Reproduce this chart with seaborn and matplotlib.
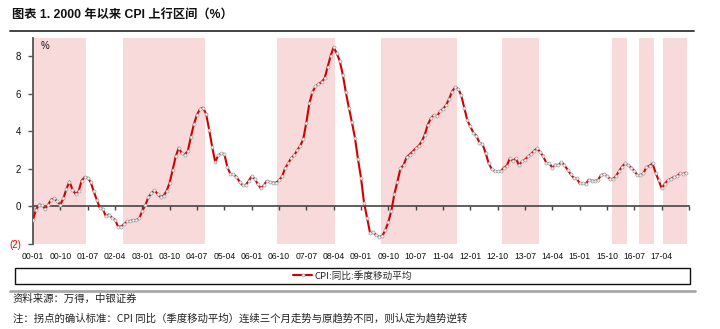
import numpy as np
import pandas as pd
import matplotlib
matplotlib.use("Agg")
import matplotlib.pyplot as plt
from matplotlib import font_manager
from matplotlib.patches import Rectangle
from matplotlib.lines import Line2D
import seaborn as sns

# ---------------- data ----------------
start_month = "2000-01"
cpi_ma = [
    # 2000
    -0.70, -0.17, 0.10, 0.07, -0.13, 0.10, 0.37, 0.43, 0.27, 0.10, 0.43, 0.93,
    # 2001
    1.33, 0.90, 0.67, 0.80, 1.37, 1.57, 1.53, 1.30, 0.80, 0.37, -0.07, -0.13,
    # 2002
    -0.53, -0.43, -0.60, -0.70, -1.07, -1.07, -0.93, -0.80, -0.77, -0.73, -0.73, -0.63,
    # 2003
    -0.23, 0.07, 0.50, 0.70, 0.87, 0.67, 0.50, 0.57, 0.83, 1.27, 1.97, 2.67,
    # 2004
    3.13, 2.83, 2.77, 2.97, 3.73, 4.40, 4.90, 5.20, 5.27, 4.93, 4.10, 3.17,
    # 2005
    2.37, 2.73, 2.83, 2.80, 2.10, 1.73, 1.73, 1.57, 1.33, 1.13, 1.13, 1.37,
    # 2006
    1.60, 1.47, 1.20, 0.97, 1.13, 1.37, 1.30, 1.27, 1.27, 1.40, 1.60, 2.03,
    # 2007
    2.30, 2.57, 2.73, 3.00, 3.23, 3.60, 4.47, 5.50, 6.10, 6.40, 6.53, 6.63,
    # 2008
    6.83, 7.43, 8.03, 8.50, 8.17, 7.77, 7.03, 6.10, 5.27, 4.50, 3.67, 2.53,
    # 2009
    1.53, 0.20, -0.60, -1.43, -1.37, -1.53, -1.63, -1.57, -1.27, -0.83, -0.23, 0.67,
    # 2010
    1.33, 2.03, 2.20, 2.63, 2.77, 2.93, 3.10, 3.23, 3.47, 3.83, 4.37, 4.70,
    # 2011
    4.87, 4.80, 5.07, 5.20, 5.40, 5.73, 6.13, 6.37, 6.27, 5.93, 5.27, 4.60,
    # 2012
    4.27, 3.93, 3.77, 3.40, 3.33, 2.87, 2.33, 2.00, 1.90, 1.87, 1.87, 2.07,
    # 2013
    2.17, 2.57, 2.43, 2.57, 2.20, 2.40, 2.50, 2.67, 2.80, 2.97, 3.10, 2.90,
    # 2014
    2.67, 2.33, 2.30, 2.07, 2.23, 2.20, 2.37, 2.20, 1.97, 1.73, 1.53, 1.50,
    # 2015
    1.23, 1.23, 1.20, 1.43, 1.37, 1.37, 1.40, 1.67, 1.73, 1.63, 1.47, 1.47,
    # 2016
    1.63, 1.90, 2.13, 2.30, 2.20, 2.07, 1.90, 1.67, 1.67, 1.77, 2.10, 2.17,
    # 2017
    2.30, 1.80, 1.40, 0.97, 1.20, 1.40, 1.47, 1.57, 1.60, 1.77, 1.73, 1.80,
]
# upward periods (start month, end month)
up_start = ["2000-01", "2002-07", "2006-10", "2009-08", "2012-12", "2015-12", "2016-09", "2017-05"]
up_end = ["2001-06", "2004-09", "2008-04", "2011-08", "2013-11", "2016-04", "2017-01", "2017-12"]

x_tick_labels = ["00-01", "00-10", "01-07", "02-04", "03-01", "03-10", "04-07", "05-04",
                 "06-01", "06-10", "07-07", "08-04", "09-01", "09-10", "10-07", "11-04",
                 "12-01", "12-10", "13-07", "14-04", "15-01", "15-10", "16-07", "17-04", ""]
y_ticks = [-2, 0, 2, 4, 6, 8]
y_tick_labels = ["(2)", "0", "2", "4", "6", "8"]

title = "图表 1. 2000 年以来 CPI 上行区间（%）"
series_name = "CPI:同比:季度移动平均"
source = "资料来源：万得，中银证券"
note = "注：拐点的确认标准：CPI 同比（季度移动平均）连续三个月走势与原趋势不同，则认定为趋势逆转"

# ---------------- style ----------------
sns.set_style("white")
names = {f.name for f in font_manager.fontManager.ttflist}
latin = "Liberation Sans"
narrow = "Liberation Sans Narrow" if "Liberation Sans Narrow" in names else None
cjk = "Noto Sans CJK SC"
plt.rcParams["font.family"] = [latin, cjk, "DejaVu Sans"]
plt.rcParams["axes.unicode_minus"] = False

months = pd.date_range(start_month, periods=len(cpi_ma), freq="MS")
df = pd.DataFrame({"idx": np.arange(len(cpi_ma)), "month": months, "cpi": cpi_ma})
pos = {m.strftime("%Y-%m"): i for i, m in enumerate(months)}

W, H = 720, 329
fig = plt.figure(figsize=(W / 100, H / 100), dpi=100)
ax = fig.add_axes([33 / W, 1 - 244 / H, (689 - 33) / W, (244 - 37.7) / H])

ymin, ymax = -2, 9
xmin, xmax = 0, 216
ax.set_xlim(xmin, xmax)
ax.set_ylim(ymin, ymax)

for s, e in zip(up_start, up_end):
    ax.axvspan(max(pos[s] - 0.5, xmin), pos[e] + 0.5, color="#F9DADA", lw=0, zorder=0)

line_kw = dict(color="#D00000", lw=1.5, marker="o", markersize=2.2,
               markerfacecolor="#F4F4F4", markeredgecolor="#A0A0A0", markeredgewidth=0.5)
sns.lineplot(data=df, x="idx", y="cpi", ax=ax, zorder=3, legend=False, **line_kw)
ax.set_xlabel("")
ax.set_ylabel("")

# spines
for sp in ["top", "right", "bottom"]:
    ax.spines[sp].set_visible(False)
ax.spines["left"].set_color("#555555")
ax.spines["left"].set_linewidth(1.3)

# y ticks
ax.set_yticks(y_ticks)
ax.set_yticklabels(y_tick_labels)
ax.tick_params(axis="y", direction="out", length=3.5, width=1.0, color="#555555",
               labelsize=7, pad=5, left=True)
for lab in ax.get_yticklabels():
    lab.set_color("#FF0000" if lab.get_text().startswith("(") else "#111111")

# x tick labels at bottom
xt = np.arange(0, xmax + 1, 9)
ax.set_xticks(xt)
ax.set_xticklabels(x_tick_labels)
ax.tick_params(axis="x", length=0, pad=6, labelsize=7 if narrow else 6.2, colors="#111111")
for lab in ax.get_xticklabels():
    lab.set_family([narrow or latin, cjk])

# zero line with tick marks
zero_frac = (0 - ymin) / (ymax - ymin)
sec = ax.secondary_xaxis(zero_frac)
sec.set_xticks(xt)
sec.set_xticklabels([])
sec.tick_params(axis="x", direction="out", length=3, width=1.0, color="#444444")
sec.spines["bottom"].set_color("#444444")
sec.spines["bottom"].set_linewidth(1.2)

ax.grid(False)
ax.text(0.012, 0.985, "%", transform=ax.transAxes, ha="left", va="top", fontsize=7, color="#111111")

# ---------------- figure decorations ----------------
fig.text(12 / W, 1 - 15 / H, title, ha="left", va="center", fontsize=8.8, fontweight="bold",
         family=[latin, cjk], color="#111111")
fig.add_artist(Line2D([10 / W, 694 / W], [1 - 31 / H, 1 - 31 / H], color="#444444", lw=1.4))

# legend box
fig.add_artist(Rectangle((15 / W, 1 - 284 / H), (690 - 15) / W, 16 / H, transform=fig.transFigure,
                         fill=False, edgecolor="#111111", lw=1.0))
handle = Line2D([], [], **line_kw)
fig.legend([handle], [series_name], loc="center", bbox_to_anchor=(352.5 / W, 1 - 276 / H),
           frameon=False, handlelength=2.0, handletextpad=0.2,
           prop={"family": [cjk, latin], "size": 6.9})

fig.add_artist(Line2D([10 / W, 695 / W], [1 - 290.5 / H, 1 - 290.5 / H], color="#A8A8A8", lw=2.0))
fig.text(13 / W, 1 - 299 / H, source, ha="left", va="center", fontsize=7.5, style="italic",
         family=[cjk, latin], color="#222222")
fig.text(13 / W, 1 - 318 / H, note, ha="left", va="center", fontsize=7.5, style="italic",
         family=[cjk, latin], color="#222222")

fig.savefig("out.png", dpi=100)
